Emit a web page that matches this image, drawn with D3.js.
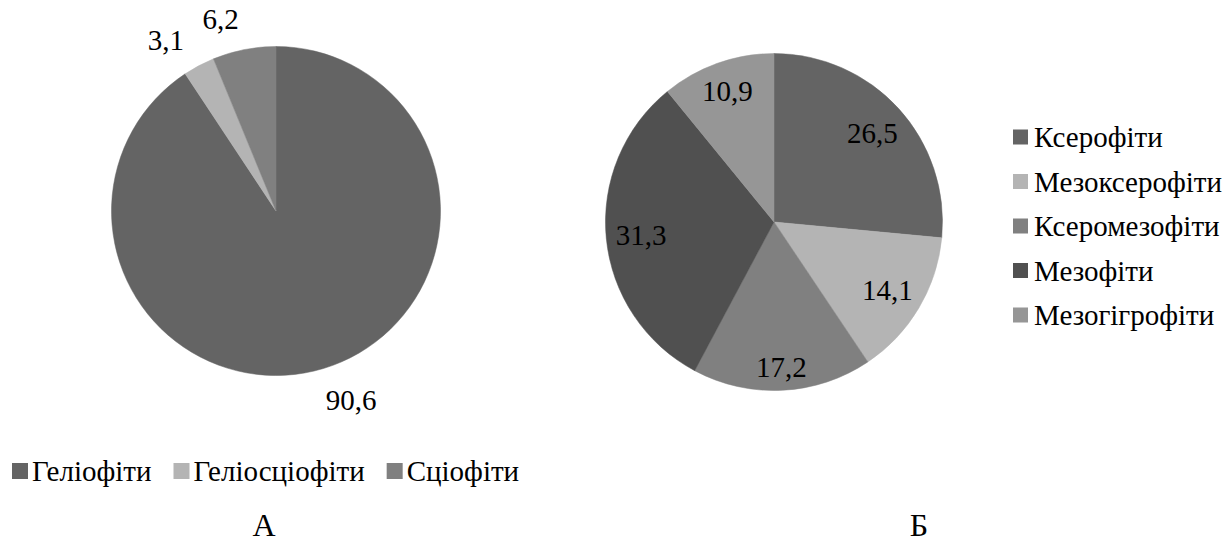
<!DOCTYPE html>
<html>
<head>
<meta charset="utf-8">
<script src="https://cdn.jsdelivr.net/npm/d3@7"></script>
<style>
  body { margin: 0; background: #fff; }
</style>
</head>
<body>
<svg width="1232" height="543"></svg>
<script>
// chart A - light groups
const catsA = ["Геліофіти", "Геліосціофіти", "Сціофіти"];
const valsA = [90.6, 3.1, 6.2];
const colorsA = ["#646464", "#b4b4b4", "#808080"];

// chart B - water groups
const catsB = ["Ксерофіти", "Мезоксерофіти", "Ксеромезофіти", "Мезофіти", "Мезогігрофіти"];
const valsB = [26.5, 14.1, 17.2, 31.3, 10.9];
const colorsB = ["#646464", "#b4b4b4", "#808080", "#505050", "#969696"];

const captions = ["А", "Б"];

const serif = '"Liberation Serif"';
const svg = d3.select("svg");
const fmt = v => String(v).replace(".", ",");
const fontSize = 29;

const pie = d3.pie().sort(null).value(d => d.v);

function drawPie(cx, cy, r, cats, vals, colors, mode) {
    const data = cats.map((c, i) => ({ c: c, v: vals[i], col: colors[i] }));
    const arcs = pie(data);
    const arc = d3.arc().innerRadius(0).outerRadius(r);
    const g = svg.append("g").attr("transform", `translate(${cx},${cy})`);

    g.selectAll("path")
        .data(arcs)
        .enter().append("path")
        .attr("d", arc)
        .attr("fill", d => d.data.col)
        .attr("stroke", d => d.data.col)
        .attr("stroke-width", 0.5);

    const labels = g.selectAll("text.lbl")
        .data(arcs)
        .enter().append("text")
        .attr("class", "lbl")
        .attr("text-anchor", "middle")
        .attr("dominant-baseline", "central")
        .style("font-family", serif)
        .style("font-size", fontSize + "px")
        .text(d => fmt(d.data.v));

    // place label along the mid angle, box touching the circle (inside or outside end)
    labels.each(function(d) {
        const w = this.getComputedTextLength() / 2;
        const h = fontSize * 0.42;
        let a = (d.startAngle + d.endAngle) / 2;
        if (mode !== "inside") a -= 0.085; // outside labels sit a bit counter-clockwise
        const sx = Math.sin(a), sy = -Math.cos(a);
        let dist;
        if (mode === "inside") {
            const lim = r - 8;
            dist = 0;
            for (let t = 0; t < r; t += 0.5) {
                const x = Math.abs(t * sx) + w, y = Math.abs(t * sy) + h;
                if (Math.hypot(x, y) > lim) break;
                dist = t;
            }
        } else {
            const lim = r + 19;
            dist = r;
            for (let t = r; t < r * 2; t += 0.5) {
                const x = Math.max(0, Math.abs(t * sx) - w), y = Math.max(0, Math.abs(t * sy) - h);
                dist = t;
                if (Math.hypot(x, y) >= lim) break;
            }
        }
        d3.select(this).attr("x", dist * sx).attr("y", dist * sy);
    });
}

drawPie(276, 211, 164.5, catsA, valsA, colorsA, "outside");
drawPie(774, 222, 168.5, catsB, valsB, colorsB, "inside");

// legend A (horizontal, under pie A)
const legA = svg.append("g").attr("transform", "translate(12,471)");
let xPos = 0;
catsA.forEach((c, i) => {
    const item = legA.append("g").attr("transform", `translate(${xPos},0)`);
    item.append("rect").attr("x", 0).attr("y", -8).attr("width", 16).attr("height", 16).attr("fill", colorsA[i]);
    const t = item.append("text")
        .attr("x", 20).attr("y", 0)
        .attr("dominant-baseline", "central")
        .style("font-family", serif)
        .style("font-size", fontSize + "px")
        .text(c);
    xPos += 20 + t.node().getComputedTextLength() + 22;
});

// legend B (vertical, right of pie B)
const legB = svg.append("g").attr("transform", "translate(1013,137)");
legB.selectAll("g")
    .data(catsB)
    .enter().append("g")
    .attr("transform", (d, i) => `translate(0,${i * 44.5})`)
    .each(function(d, i) {
        const item = d3.select(this);
        item.append("rect").attr("x", 0).attr("y", -7.5).attr("width", 15).attr("height", 15).attr("fill", colorsB[i]);
        item.append("text")
            .attr("x", 21).attr("y", 0)
            .attr("dominant-baseline", "central")
            .style("font-family", serif)
            .style("font-size", fontSize + "px")
            .text(d);
    });

// captions
svg.selectAll("text.cap")
    .data(captions)
    .enter().append("text")
    .attr("class", "cap")
    .attr("x", (d, i) => i === 0 ? 264 : 919)
    .attr("y", 536)
    .attr("text-anchor", "middle")
    .style("font-family", serif)
    .style("font-size", "32px")
    .text(d => d);
</script>
</body>
</html>
